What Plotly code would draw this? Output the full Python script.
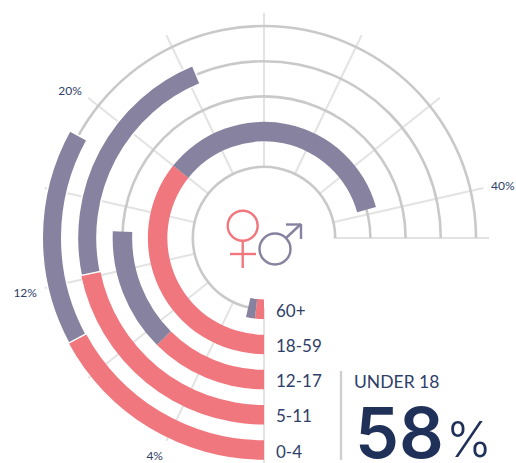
import plotly.graph_objects as go

W, H = 516, 463
CX, CY = 264, 238
R_MAX = 225

categories = ["0-4", "5-11", "12-17", "18-59", "60+"]
female_pct = [9.6, 12.2, 7.0, 20.0, 1.0]
male_pct = [8.9, 12.3, 7.4, 19.6, 1.0]
tick_pct = [0, 4, 8, 12, 16, 20, 24, 28, 32, 36, 40, 42]
tick_labels = ["", "4%", "", "12%", "", "20%", "", "", "", "", "40%", ""]
headline_label = "UNDER 18"
headline_value = "58"

AXIS_MAX = 42
deg = lambda p: p * 270 / AXIS_MAX

PINK, PURPLE, NAVY = "#f1777f", "#87829f", "#1f3158"
RING, SPOKE = "#c9c9c9", "#e3e3e3"
BAND = 19.5
centre = {i: 212 - 35.2 * i for i in range(5)}
inner = [centre[i] - BAND / 2 for i in range(5)]

fig = go.Figure()
# inner white disc hides the spokes inside the first ring
fig.add_trace(go.Barpolar(theta=[180], width=[360], base=[0], r=[69.7],
                          marker=dict(color="white", line=dict(width=0)), hoverinfo="skip"))
# rings
fig.add_trace(go.Barpolar(theta=[deg(AXIS_MAX / 2)] * 5, width=[deg(AXIS_MAX)] * 5,
                          base=[centre[i] - 1.3 for i in range(5)], r=[2.6] * 5,
                          marker=dict(color=RING, line=dict(width=0)), hoverinfo="skip"))
# female then male, stacked along the angle
fig.add_trace(go.Barpolar(theta=[deg(v / 2) for v in female_pct], width=[deg(v) for v in female_pct],
                          base=inner, r=[BAND] * 5, name="Female",
                          marker=dict(color=PINK, line=dict(width=0))))
fig.add_trace(go.Barpolar(theta=[deg(f + m / 2) for f, m in zip(female_pct, male_pct)],
                          width=[deg(m) for m in male_pct],
                          base=inner, r=[BAND] * 5, name="Male",
                          marker=dict(color=PURPLE, line=dict(color="white", width=[1.5, 1.5, 0, 0, 0]))))


def px(x):
    return x / W


def py(y):
    return 1 - y / H


def line(x0, y0, x1, y1, color, width=2.4):
    return dict(type="line", xref="paper", yref="paper", x0=px(x0), y0=py(y0), x1=px(x1), y1=py(y1),
                line=dict(color=color, width=width))


def circle(x, y, r, color):
    return dict(type="circle", xref="paper", yref="paper", x0=px(x - r), x1=px(x + r),
                y0=py(y - r), y1=py(y + r), line=dict(color=color, width=2.4))


shapes = [
    circle(242.7, 225.7, 15, PINK),
    line(242.7, 241, 242.7, 268, PINK),
    line(230, 254, 256, 254, PINK),
    circle(275, 249, 15.5, PURPLE),
    line(286, 238, 301, 224, PURPLE),
    line(286, 224.5, 301, 224.5, PURPLE),
    line(301, 224, 301, 239, PURPLE),
    line(341, 371, 341, 460, "#cfcfcf"),
]


def note(x, y, text, size, color=NAVY, anchor="left", family="Lato", weight=400, height=None):
    return dict(xref="paper", yref="paper", x=px(x), y=py(y), text=text, showarrow=False,
                xanchor=anchor, yanchor="middle", align=anchor, borderpad=0, height=height,
                font=dict(family=family, size=size, color=color, weight=weight))


annotations = [note(275, 451 - 35.2 * i, categories[i], 17, "#2f4068") for i in range(5)]
annotations += [
    note(353, 381, headline_label, 17.5, "#2f4068"),
    note(354, 432, headline_value, 70, family="Inter", weight=600, height=54),
    note(445, 439, "%", 49, family="Inter", weight=300, height=40),
]

fig.update_layout(
    width=W, height=H, margin=dict(l=0, r=0, t=0, b=0),
    paper_bgcolor="white", showlegend=False,
    shapes=shapes, annotations=annotations,
    polar=dict(
        domain=dict(x=[(CX - R_MAX) / W, (CX + R_MAX) / W],
                    y=[(H - CY - R_MAX) / H, (H - CY + R_MAX) / H]),
        barmode="overlay", bgcolor="white",
        radialaxis=dict(range=[0, R_MAX], visible=False),
        angularaxis=dict(rotation=270, direction="clockwise", thetaunit="degrees",
                         tickmode="array", tickvals=[deg(t) for t in tick_pct], ticktext=tick_labels,
                         showgrid=True, gridcolor=SPOKE, gridwidth=2.2, showline=False,
                         ticks="outside", ticklen=5, tickwidth=1, tickcolor="white",
                         tickfont=dict(family="Lato", size=12, color="#2f4068")),
    ),
)
fig.write_html("out.html", config={"displayModeBar": False},
               post_script='document.body.style.margin="0";document.body.style.overflow="hidden";')
